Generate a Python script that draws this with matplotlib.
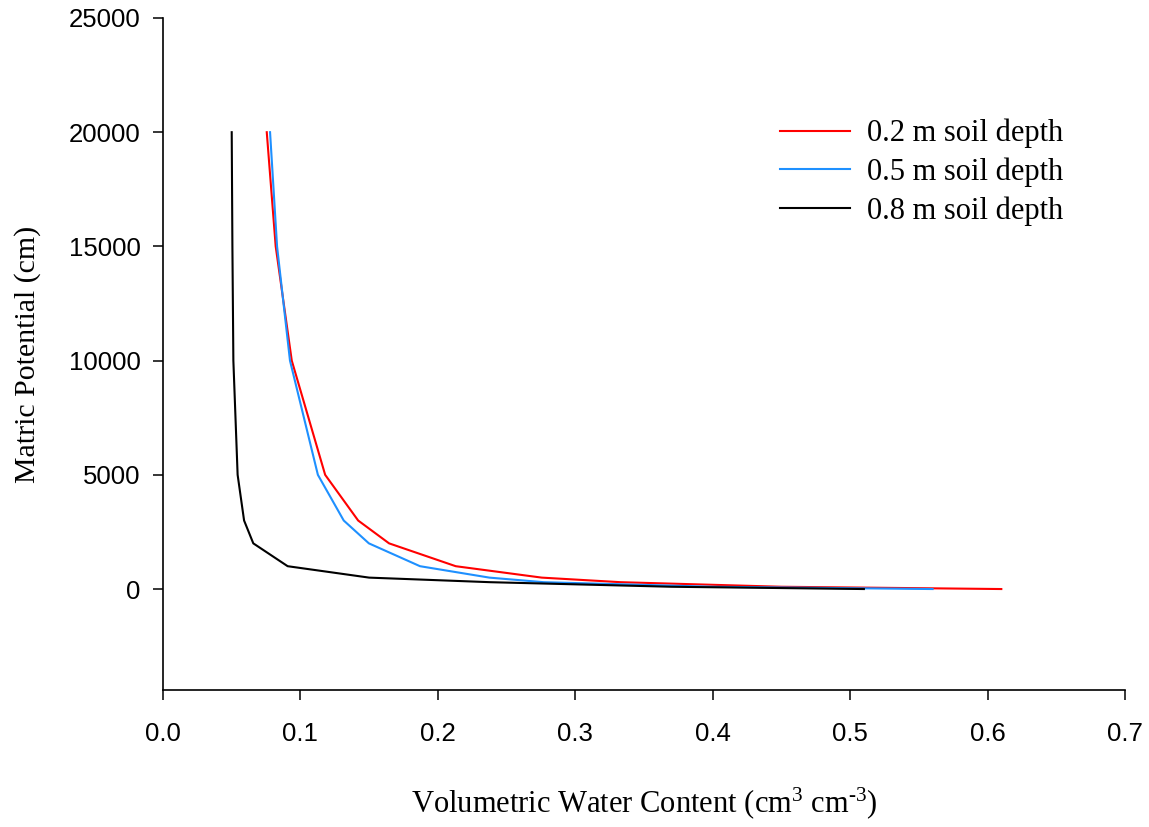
import matplotlib
matplotlib.use("Agg")
import matplotlib.pyplot as plt

# matric potential levels (cm)
potential = [20000, 15000, 10000, 5000, 3000, 2000, 1000, 500, 300, 100, 0]

# volumetric water content at each level
vwc_02 = [0.0755, 0.082, 0.0937, 0.118, 0.142, 0.1645, 0.213, 0.2756, 0.333, 0.45, 0.61]
vwc_05 = [0.0779, 0.083, 0.0924, 0.1127, 0.1315, 0.1498, 0.187, 0.2375, 0.277, 0.40, 0.56]
vwc_08 = [0.050, 0.0505, 0.0512, 0.0543, 0.059, 0.0657, 0.0907, 0.150, 0.238, 0.37, 0.51]

labels = ["0.2 m soil depth", "0.5 m soil depth", "0.8 m soil depth"]
colors = ["#ff0000", "#1e90ff", "#000000"]

plt.rcParams["font.family"] = ["Liberation Sans", "DejaVu Sans"]
plt.rcParams["mathtext.fontset"] = "custom"
plt.rcParams["mathtext.rm"] = "Liberation Serif"
plt.rcParams["mathtext.it"] = "Liberation Serif"

fig = plt.figure(figsize=(11.49, 8.27), dpi=100)
ax = fig.add_axes([163 / 1149, 1 - 690 / 827, (1125 - 163) / 1149, (690 - 18) / 827])

for vals, lab, c in zip([vwc_02, vwc_05, vwc_08], labels, colors):
    ax.plot(vals, potential, color=c, linewidth=1.5, label=lab)

ax.set_xlim(0, 0.7)
ax.set_ylim(-4420, 25000)
ax.set_xticks([0.0, 0.1, 0.2, 0.3, 0.4, 0.5, 0.6, 0.7])
ax.set_xticklabels(["0.0", "0.1", "0.2", "0.3", "0.4", "0.5", "0.6", "0.7"])
ax.set_yticks([0, 5000, 10000, 15000, 20000, 25000])

ax.spines["top"].set_visible(False)
ax.spines["right"].set_visible(False)
for s in ["left", "bottom"]:
    ax.spines[s].set_linewidth(1.2)

ax.tick_params(axis="both", direction="out", length=7, width=1.1, labelsize=18.5)
ax.tick_params(axis="x", pad=16)
ax.tick_params(axis="y", pad=9)

ax.set_xlabel("Volumetric Water Content (cm$^{3}$ cm$^{\u20103}$)",
              family="Liberation Serif", fontsize=22, labelpad=28)
ax.set_ylabel("Matric Potential (cm)", family="Liberation Serif", fontsize=21.5, labelpad=20)

ax.legend(loc="upper left", bbox_to_anchor=(0.641, 0.850), frameon=False,
          prop={"family": "Liberation Serif", "size": 22},
          borderpad=0, borderaxespad=0,
          handlelength=2.3, handletextpad=0.55, labelspacing=0.30)

fig.savefig("out.png", dpi=100)
